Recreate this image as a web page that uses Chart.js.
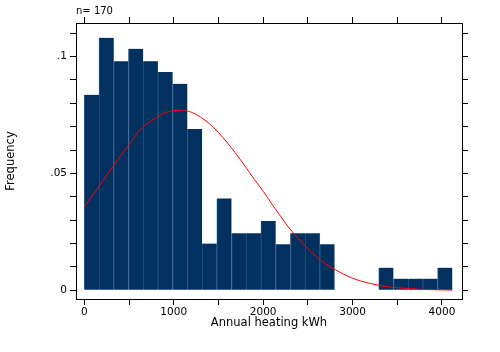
<!DOCTYPE html>
<html>
<head>
<meta charset="utf-8">
<script src="https://cdn.jsdelivr.net/npm/chart.js@4"></script>
<style>
html,body{margin:0;padding:0;background:#fff;}
#wrap{position:relative;width:500px;height:352px;}
</style>
</head>
<body>
<div id="wrap"><canvas id="c" width="500" height="352"></canvas></div>
<script>
// Histogram bin centres (Annual heating kWh) and fractions
const binCenters = [82.3, 247.0, 411.6, 576.2, 740.9, 905.5, 1070.2, 1234.8, 1399.4, 1564.1, 1728.7, 1893.4, 2058.0, 2222.6, 2387.3, 2551.9, 2716.6, 2881.2, 3045.8, 3210.5, 3375.1, 3539.8, 3704.4, 3869.0, 4033.7];
const fractions = [0.0836, 0.108, 0.098, 0.1033, 0.098, 0.0934, 0.0883, 0.069, 0.02, 0.0393, 0.0244, 0.0244, 0.0296, 0.0197, 0.0244, 0.0244, 0.0197, 0, 0, 0, 0.0097, 0.005, 0.005, 0.005, 0.0097];

// Normal density overlay
const curveX = [0, 100, 200, 300, 400, 500, 600, 700, 800, 900, 1000, 1100, 1200, 1300, 1400, 1500, 1600, 1700, 1800, 1900, 2000, 2100, 2200, 2300, 2400, 2500, 2600, 2700, 2800, 2900, 3000, 3100, 3200, 3300, 3400, 3500, 3600, 3700, 3800, 3900, 4000, 4116];
const curveY = [0.0357, 0.041, 0.0464, 0.0519, 0.0572, 0.0622, 0.0675, 0.0712, 0.0738, 0.0758, 0.0769, 0.077, 0.0761, 0.0741, 0.0712, 0.0675, 0.0631, 0.0582, 0.053, 0.0475, 0.0424, 0.0368, 0.0314, 0.0262, 0.0218, 0.0178, 0.0142, 0.0113, 0.009, 0.0069, 0.0052, 0.0039, 0.0029, 0.0021, 0.0015, 0.0011, 0.0008, 0.0006, 0.0004, 0.0003, 0.0002, 0.0001];

// Axis ticks
const xTicks = [0, 500, 1000, 1500, 2000, 2500, 3000, 3500, 4000];
const xLabels = {0: '0', 1000: '1000', 2000: '2000', 3000: '3000', 4000: '4000'};
const yTicks = [0, 0.01, 0.02, 0.03, 0.04, 0.05, 0.06, 0.07, 0.08, 0.09, 0.1, 0.11];
const yLabels = {'0': '0', '0.05': '.05', '0.1': '.1'};

const nLabel = 'n= 170';
const xTitle = 'Annual heating kWh';
const yTitle = 'Frequency';

const FONT = 'DejaVu Sans';
const tickFont = {family: FONT, size: 10.5};
const titleFont = {family: FONT, size: 11.5};

function setTicks(vals) {
  return (scale) => { scale.ticks = vals.map(v => ({value: v})); };
}
const gridOpts = {display: true, offset: false, drawOnChartArea: false, drawTicks: true, tickLength: 6, color: '#000', lineWidth: 1};
const borderOpts = {display: true, color: '#000', width: 1};

new Chart(document.getElementById('c'), {
  type: 'bar',
  data: {
    datasets: [
      {
        type: 'line',
        data: curveX.map((x, i) => ({x: x, y: curveY[i]})),
        borderColor: '#ff0000',
        borderWidth: 1,
        pointRadius: 0,
        fill: false,
        tension: 0,
        cubicInterpolationMode: 'monotone',
        order: 0,
        xAxisID: 'x',
        yAxisID: 'y'
      },
      {
        type: 'bar',
        data: binCenters.map((x, i) => ({x: x, y: fractions[i]})),
        backgroundColor: '#03315f',
        borderColor: '#1c5492',
        borderWidth: {left: 1, right: 0, top: 0, bottom: 0},
        borderSkipped: false,
        barPercentage: 1,
        categoryPercentage: 1,
        order: 1,
        xAxisID: 'x',
        yAxisID: 'y'
      }
    ]
  },
  options: {
    responsive: false,
    animation: false,
    devicePixelRatio: 1,
    layout: {padding: 0},
    plugins: {legend: {display: false}, tooltip: {enabled: false}},
    scales: {
      x: {
        type: 'linear', position: 'bottom', min: -93, max: 4224, offset: false,
        afterBuildTicks: setTicks(xTicks),
        afterFit: (s) => { s.height = 53; },
        grid: gridOpts, border: borderOpts,
        ticks: {autoSkip: false, maxRotation: 0, minRotation: 0, padding: 1, color: '#000', font: tickFont,
          callback: (v) => (xLabels[v] !== undefined ? xLabels[v] : '')},
        title: {display: true, text: xTitle, color: '#000', font: titleFont, padding: {top: 0, bottom: 22}}
      },
      x2: {
        type: 'linear', position: 'top', min: -93, max: 4224, offset: false,
        afterBuildTicks: setTicks(xTicks),
        afterFit: (s) => { s.height = 23; },
        grid: gridOpts, border: borderOpts,
        ticks: {display: false, autoSkip: false},
        title: {display: true, text: nLabel, align: 'start', color: '#000', font: {family: FONT, size: 10}, padding: {top: 5, bottom: 0}}
      },
      y: {
        type: 'linear', position: 'left', min: -0.0037, max: 0.1143,
        afterBuildTicks: setTicks(yTicks),
        afterFit: (s) => { s.width = 76; },
        grid: gridOpts, border: borderOpts,
        ticks: {autoSkip: false, padding: 3, color: '#000', font: tickFont,
          callback: (v) => { const k = String(Math.round(v * 100) / 100); return yLabels[k] !== undefined ? yLabels[k] : ''; }},
        title: {display: true, text: yTitle, color: '#000', font: titleFont, padding: {top: 4, bottom: 0}}
      },
      y2: {
        type: 'linear', position: 'right', min: -0.0037, max: 0.1143,
        afterBuildTicks: setTicks(yTicks),
        afterFit: (s) => { s.width = 38; },
        grid: gridOpts, border: borderOpts,
        ticks: {display: false, autoSkip: false}
      }
    }
  }
});
</script>
</body>
</html>
